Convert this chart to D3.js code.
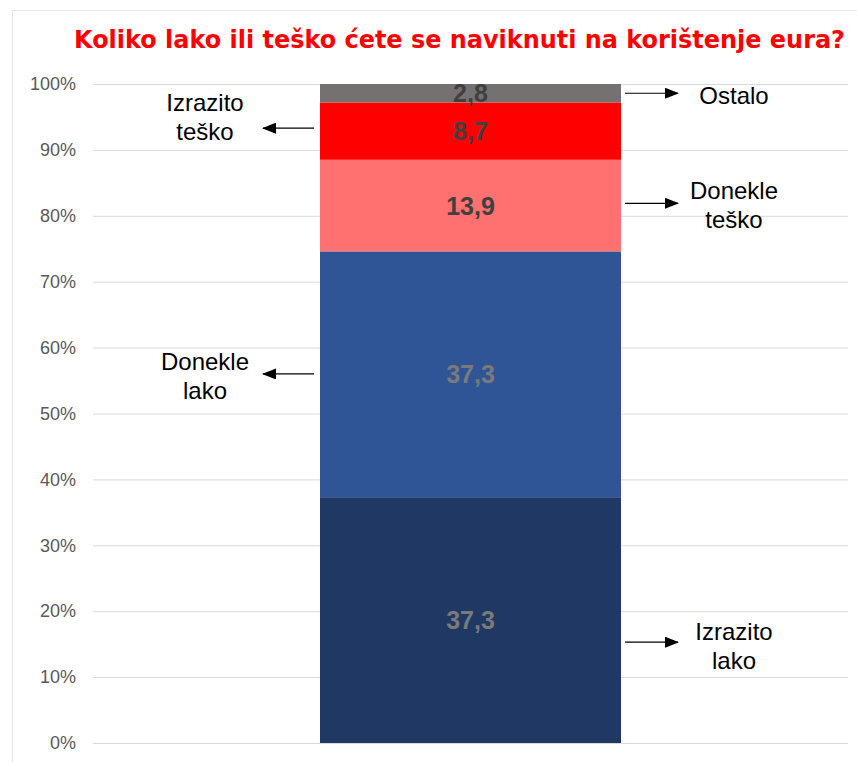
<!DOCTYPE html>
<html lang="hr">
<head>
    <meta charset="UTF-8">
    <title>Koliko lako ili teško</title>
    <style>
        body { margin: 0; background: #fff; }
        svg { display: block; }
    </style>
</head>
<body>
    <script src="https://cdnjs.cloudflare.com/ajax/libs/d3/7.8.2/d3.min.js"></script>
    <script>

        const naslov = "Koliko lako ili teško ćete se naviknuti na korištenje eura?"

        // segmenti odozdo prema gore
        const kategorije = ["Izrazito lako", "Donekle lako", "Donekle teško", "Izrazito teško", "Ostalo"]
        const vrijednosti = [37.3, 37.3, 13.9, 8.7, 2.8]
        const boje = ["#203864", "#2f5597", "#ff7070", "#ff0000", "#767171"]
        const bojeOznaka = ["#7a7a7a", "#7a7a7a", "#404040", "#404040", "#404040"]

        const tickovi = [0, 10, 20, 30, 40, 50, 60, 70, 80, 90, 100]

        // oblačići sa strelicama: strana, tekst, y strelice (%), y teksta (%)
        const oblacici = [
            {strana : "L", redovi : ["Izrazito", "teško"], strelica : 93.3, tekst : 95.0},
            {strana : "L", redovi : ["Donekle", "lako"], strelica : 56.0, tekst : 55.7},
            {strana : "R", redovi : ["Ostalo"], strelica : 98.6, tekst : 98.3},
            {strana : "R", redovi : ["Donekle", "teško"], strelica : 81.9, tekst : 81.6},
            {strana : "R", redovi : ["Izrazito", "lako"], strelica : 15.3, tekst : 14.7}
        ]

        const w = 857
        const h = 762

        const svg = d3.select("body")
            .append("svg")
                .attr("width", w)
                .attr("height", h)

        // okvir
        svg.append("rect")
            .attr("x", 12.5).attr("y", 10.5)
            .attr("width", w).attr("height", h)
            .attr("fill", "none")
            .attr("stroke", "#e6e6e6")

        svg.append("text")
            .attr("x", 74).attr("y", 48)
            .attr("textLength", 771)
            .attr("lengthAdjust", "spacingAndGlyphs")
            .style("font-family", "DejaVu Sans")
            .style("font-weight", "bold")
            .style("font-size", "24px")
            .style("fill", "#ff0000")
            .text(naslov)

        const y = d3.scaleLinear()
            .domain([0, 100])
            .range([743, 84])

        // mreža
        svg.append("g")
            .selectAll("line")
            .data(tickovi)
            .enter()
            .append("line")
                .attr("x1", 93).attr("x2", 848)
                .attr("y1", d => y(d) + 0.5)
                .attr("y2", d => y(d) + 0.5)
                .attr("stroke", "#d9d9d9")

        const osY = svg.append("g")
            .attr("transform", "translate(76,0)")
            .call(d3.axisLeft(y).tickValues(tickovi).tickFormat(d => d + "%").tickSize(0).tickPadding(0))
        osY.select(".domain").remove()
        osY.selectAll("text")
            .style("font-family", "Liberation Sans, Arial")
            .style("font-size", "18px")
            .style("fill", "#595959")

        // slaganje
        const slozeno = []
        let zbroj = 0
        vrijednosti.forEach((v, i) => {
            slozeno.push({k : kategorije[i], v : v, y0 : zbroj, y1 : zbroj + v, i : i})
            zbroj += v
        })

        svg.append("g")
            .selectAll("rect")
            .data(slozeno)
            .enter()
            .append("rect")
                .attr("x", 320)
                .attr("width", 301)
                .attr("y", d => y(Math.min(d.y1, 100)))
                .attr("height", d => y(d.y0) - y(Math.min(d.y1, 100)))
                .attr("fill", d => boje[d.i])

        svg.append("g")
            .selectAll("text")
            .data(slozeno)
            .enter()
            .append("text")
                .attr("x", 470.5)
                .attr("y", d => y((d.y0 + Math.min(d.y1, 100)) / 2))
                .attr("dy", "0.36em")
                .attr("text-anchor", "middle")
                .style("font-family", "Liberation Sans, Arial")
                .style("font-weight", "bold")
                .style("font-size", "25px")
                .style("fill", d => bojeOznaka[d.i])
                .text(d => d3.format(".1f")(d.v).replace(".", ","))

        // strelice
        const defs = svg.append("defs")
        defs.append("marker")
            .attr("id", "vrh")
            .attr("viewBox", "0 0 14 11")
            .attr("refX", 13).attr("refY", 5.5)
            .attr("markerWidth", 14).attr("markerHeight", 11)
            .attr("markerUnits", "userSpaceOnUse")
            .attr("orient", "auto")
            .append("path")
                .attr("d", "M0,0 L14,5.5 L0,11 Z")
                .attr("fill", "#000")

        const g = svg.append("g")
            .selectAll("g")
            .data(oblacici)
            .enter()
            .append("g")

        g.append("line")
            .attr("x1", d => d.strana == "L" ? 314 : 625)
            .attr("x2", d => d.strana == "L" ? 263 : 678)
            .attr("y1", d => y(d.strelica))
            .attr("y2", d => y(d.strelica))
            .attr("stroke", "#000")
            .attr("stroke-width", 1.2)
            .attr("marker-end", "url(#vrh)")

        g.each(function(d) {
            const cx = d.strana == "L" ? 205 : 734
            const n = d.redovi.length
            const t = d3.select(this).append("text")
                .attr("text-anchor", "middle")
                .style("font-family", "Liberation Sans, Arial")
                .style("font-size", "24px")
                .style("fill", "#000")
            d.redovi.forEach((r, i) => {
                t.append("tspan")
                    .attr("x", cx)
                    .attr("y", y(d.tekst) + (i - (n - 1) / 2) * 29)
                    .attr("dy", "0.36em")
                    .text(r)
            })
        })

    </script>
</body>
</html>
